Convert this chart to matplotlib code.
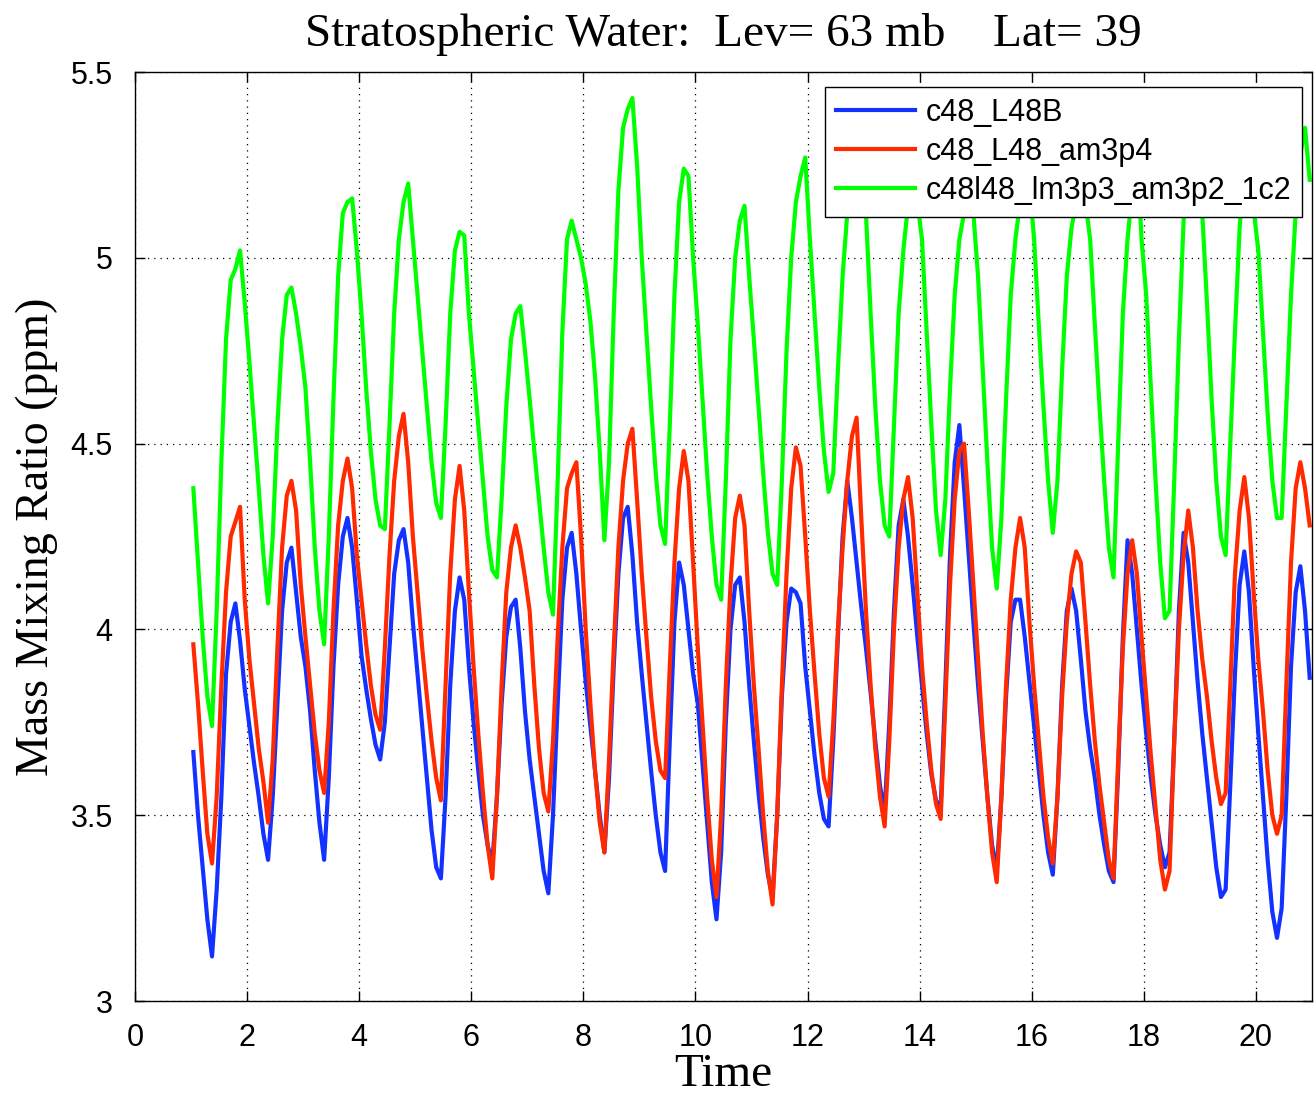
import numpy as np
import matplotlib
matplotlib.use("Agg")
import matplotlib.pyplot as plt
from matplotlib.ticker import FuncFormatter

# monthly values, one row per model year (Jan..Dec)
c48_L48B = [
    3.67, 3.50, 3.36, 3.22, 3.12, 3.30, 3.55, 3.88, 4.02, 4.07, 3.97, 3.84,
    3.74, 3.64, 3.55, 3.45, 3.38, 3.55, 3.80, 4.05, 4.18, 4.22, 4.10, 3.98,
    3.90, 3.78, 3.62, 3.48, 3.38, 3.60, 3.90, 4.12, 4.25, 4.30, 4.22, 4.08,
    3.93, 3.84, 3.76, 3.69, 3.65, 3.75, 3.95, 4.15, 4.24, 4.27, 4.18, 4.02,
    3.88, 3.74, 3.60, 3.46, 3.36, 3.33, 3.55, 3.85, 4.05, 4.14, 4.08, 3.90,
    3.75, 3.62, 3.50, 3.42, 3.37, 3.55, 3.80, 3.98, 4.06, 4.08, 3.95, 3.78,
    3.65, 3.55, 3.45, 3.35, 3.29, 3.50, 3.80, 4.08, 4.22, 4.26, 4.15, 4.00,
    3.86, 3.74, 3.62, 3.50, 3.40, 3.60, 3.90, 4.15, 4.30, 4.33, 4.20, 4.02,
    3.88, 3.75, 3.62, 3.50, 3.40, 3.35, 3.70, 4.02, 4.18, 4.12, 4.00, 3.88,
    3.80, 3.64, 3.48, 3.32, 3.22, 3.40, 3.75, 4.00, 4.12, 4.14, 4.02, 3.85,
    3.70, 3.56, 3.44, 3.34, 3.28, 3.50, 3.82, 4.02, 4.11, 4.10, 4.07, 3.90,
    3.78, 3.66, 3.56, 3.49, 3.47, 3.70, 3.98, 4.25, 4.40, 4.30, 4.18, 4.06,
    3.95, 3.83, 3.70, 3.58, 3.51, 3.75, 4.05, 4.28, 4.35, 4.25, 4.12, 3.98,
    3.85, 3.72, 3.61, 3.54, 3.52, 3.85, 4.20, 4.45, 4.55, 4.38, 4.20, 4.02,
    3.85, 3.70, 3.55, 3.42, 3.35, 3.55, 3.82, 4.02, 4.08, 4.08, 3.98, 3.86,
    3.74, 3.62, 3.50, 3.40, 3.34, 3.55, 3.85, 4.05, 4.11, 4.05, 3.92, 3.78,
    3.68, 3.60, 3.50, 3.42, 3.35, 3.32, 3.62, 3.98, 4.24, 4.15, 4.00, 3.85,
    3.72, 3.60, 3.50, 3.42, 3.36, 3.40, 3.70, 4.05, 4.26, 4.18, 4.02, 3.86,
    3.72, 3.60, 3.48, 3.36, 3.28, 3.30, 3.58, 3.88, 4.12, 4.21, 4.10, 3.90,
    3.72, 3.55, 3.38, 3.24, 3.17, 3.25, 3.55, 3.90, 4.10, 4.17, 4.05, 3.87,
]

c48_L48_am3p4 = [
    3.96, 3.80, 3.62, 3.45, 3.37, 3.55, 3.85, 4.10, 4.25, 4.29, 4.33, 4.08,
    3.92, 3.80, 3.68, 3.59, 3.48, 3.65, 3.95, 4.22, 4.36, 4.40, 4.32, 4.12,
    3.98, 3.85, 3.72, 3.62, 3.56, 3.75, 4.05, 4.28, 4.40, 4.46, 4.38, 4.20,
    4.08, 3.96, 3.85, 3.77, 3.73, 3.95, 4.20, 4.40, 4.52, 4.58, 4.45, 4.25,
    4.10, 3.95, 3.82, 3.70, 3.60, 3.54, 3.85, 4.15, 4.35, 4.44, 4.32, 4.10,
    3.90, 3.72, 3.56, 3.42, 3.33, 3.55, 3.85, 4.10, 4.22, 4.28, 4.22, 4.14,
    4.05, 3.85, 3.68, 3.56, 3.51, 3.70, 3.98, 4.22, 4.38, 4.42, 4.45, 4.25,
    4.00, 3.80, 3.62, 3.48, 3.40, 3.65, 3.95, 4.22, 4.40, 4.50, 4.54, 4.35,
    4.15, 3.98, 3.82, 3.70, 3.62, 3.60, 3.90, 4.18, 4.38, 4.48, 4.40, 4.18,
    3.95, 3.75, 3.55, 3.38, 3.28, 3.50, 3.85, 4.12, 4.30, 4.36, 4.28, 4.05,
    3.85, 3.68, 3.50, 3.35, 3.26, 3.50, 3.85, 4.15, 4.38, 4.49, 4.44, 4.25,
    4.05, 3.88, 3.72, 3.60, 3.55, 3.75, 4.00, 4.22, 4.40, 4.52, 4.57, 4.30,
    4.05, 3.85, 3.68, 3.55, 3.47, 3.70, 4.00, 4.22, 4.35, 4.41, 4.30, 4.10,
    3.90, 3.75, 3.62, 3.53, 3.49, 3.80, 4.12, 4.35, 4.48, 4.50, 4.32, 4.12,
    3.92, 3.72, 3.55, 3.40, 3.32, 3.55, 3.85, 4.08, 4.22, 4.30, 4.22, 4.02,
    3.85, 3.70, 3.55, 3.44, 3.37, 3.55, 3.82, 4.02, 4.15, 4.21, 4.18, 4.02,
    3.85, 3.70, 3.58, 3.48, 3.38, 3.33, 3.65, 3.95, 4.15, 4.24, 4.15, 3.98,
    3.82, 3.66, 3.52, 3.38, 3.30, 3.35, 3.70, 4.00, 4.20, 4.32, 4.22, 4.05,
    3.92, 3.82, 3.70, 3.60, 3.53, 3.56, 3.85, 4.15, 4.32, 4.41, 4.30, 4.10,
    3.92, 3.78, 3.62, 3.50, 3.45, 3.50, 3.85, 4.18, 4.38, 4.45, 4.38, 4.28,
]

c48l48_lm3p3 = [
    4.38, 4.18, 3.98, 3.82, 3.74, 4.05, 4.45, 4.78, 4.94, 4.97, 5.02, 4.88,
    4.72, 4.55, 4.38, 4.20, 4.07, 4.25, 4.55, 4.78, 4.90, 4.92, 4.85, 4.76,
    4.65, 4.45, 4.22, 4.05, 3.96, 4.25, 4.62, 4.95, 5.12, 5.15, 5.16, 5.02,
    4.85, 4.65, 4.48, 4.35, 4.28, 4.27, 4.55, 4.85, 5.05, 5.15, 5.20, 5.05,
    4.90, 4.75, 4.60, 4.45, 4.34, 4.30, 4.55, 4.85, 5.02, 5.07, 5.06, 4.85,
    4.70, 4.55, 4.40, 4.25, 4.16, 4.14, 4.35, 4.60, 4.78, 4.85, 4.87, 4.75,
    4.62, 4.48, 4.35, 4.22, 4.10, 4.04, 4.40, 4.80, 5.05, 5.10, 5.05, 5.00,
    4.93, 4.83, 4.68, 4.48, 4.24, 4.45, 4.85, 5.18, 5.35, 5.40, 5.43, 5.25,
    5.00, 4.80, 4.60, 4.42, 4.28, 4.23, 4.55, 4.90, 5.15, 5.24, 5.22, 5.00,
    4.82, 4.62, 4.42, 4.25, 4.12, 4.08, 4.40, 4.78, 5.00, 5.10, 5.14, 4.95,
    4.78, 4.60, 4.42, 4.26, 4.15, 4.12, 4.40, 4.75, 5.00, 5.15, 5.22, 5.27,
    5.05, 4.85, 4.65, 4.48, 4.37, 4.42, 4.70, 4.95, 5.12, 5.28, 5.35, 5.22,
    5.12, 4.85, 4.60, 4.40, 4.28, 4.25, 4.55, 4.85, 5.02, 5.14, 5.30, 5.15,
    5.05, 4.80, 4.55, 4.32, 4.20, 4.35, 4.65, 4.90, 5.05, 5.12, 5.32, 5.12,
    4.95, 4.70, 4.45, 4.22, 4.11, 4.30, 4.62, 4.90, 5.05, 5.15, 5.30, 5.20,
    5.05, 4.82, 4.60, 4.40, 4.26, 4.40, 4.70, 4.95, 5.08, 5.15, 5.35, 5.15,
    5.05, 4.82, 4.60, 4.40, 4.22, 4.14, 4.50, 4.85, 5.05, 5.18, 5.30, 5.05,
    4.90, 4.65, 4.40, 4.18, 4.03, 4.05, 4.40, 4.78, 5.10, 5.25, 5.35, 5.20,
    5.12, 4.88, 4.62, 4.40, 4.25, 4.20, 4.50, 4.80, 5.08, 5.25, 5.32, 5.13,
    5.02, 4.80, 4.58, 4.40, 4.30, 4.30, 4.60, 4.90, 5.12, 5.28, 5.35, 5.21,
]

labels = ["c48_L48B", "c48_L48_am3p4", "c48l48_lm3p3_am3p2_1c2"]
colors = ["#1432ff", "#ff2a00", "#00ff00"]

# mid-month time axis in model years
time = 1 + (np.arange(len(c48_L48B)) + 0.5) / 12

fig = plt.figure(figsize=(13.14, 10.98), dpi=100)
ax = fig.add_axes([0.1027, 0.0883, 0.8958, 0.8461])

for series, lab, col in zip([c48_L48B, c48_L48_am3p4, c48l48_lm3p3], labels, colors):
    ax.plot(time, series, color=col, lw=3.0, label=lab)

ax.set_xlim(0, 21)
ax.set_ylim(3, 5.5)
ax.set_xticks(np.arange(0, 21, 2))
ax.set_yticks(np.arange(3, 5.51, 0.5))
ax.yaxis.set_major_formatter(FuncFormatter(lambda v, p: "%g" % v))

ax.grid(True, color="k", linestyle=(0, (1, 4)), linewidth=0.9)
ax.tick_params(direction="in", length=7, width=1, top=True, right=True,
               labelsize=22, pad=16)
for lab in ax.get_xticklabels() + ax.get_yticklabels():
    lab.set_family("Liberation Sans")
for sp in ax.spines.values():
    sp.set_linewidth(1.0)

serif = "Liberation Serif"
ax.set_title("Stratospheric Water:  Lev= 63 mb    Lat= 39",
             fontsize=34, family=serif, pad=19)
ax.set_xlabel("Time", fontsize=34, family=serif, labelpad=0)
ax.set_ylabel("Mass Mixing Ratio (ppm)", fontsize=33, family=serif, labelpad=9)

leg = ax.legend(loc="upper right", bbox_to_anchor=(0.9915, 0.984),
                borderaxespad=0, prop={"family": "Liberation Sans", "size": 22},
                fancybox=False, framealpha=1, edgecolor="k",
                handlelength=2.6, handletextpad=0.35, labelspacing=0.3,
                borderpad=0.35)
leg.get_frame().set_linewidth(1.0)

fig.savefig("out.png", dpi=100)
